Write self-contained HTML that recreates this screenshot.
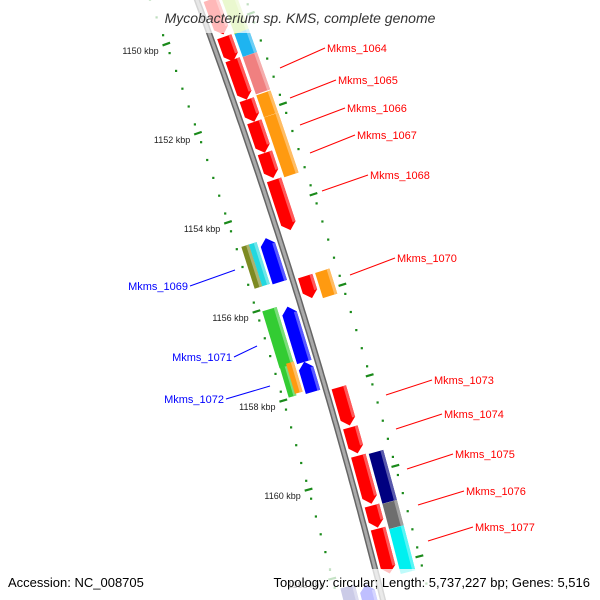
<!DOCTYPE html>
<html><head><meta charset="utf-8"><style>
body{margin:0;background:#fff;}
svg{display:block;font-family:"Liberation Sans",sans-serif;}
</style></head><body>
<svg id="map" width="600" height="600" viewBox="0 0 600 600" xmlns="http://www.w3.org/2000/svg">
<g id="ticks"></g>
<g id="backbone"></g>
<g id="genes"></g>
<g id="labels"></g>
<rect x="0" y="0" width="600" height="33" fill="#fff" opacity="0.72"/>
<text x="300" y="23" text-anchor="middle" font-size="14" font-style="italic" fill="#333">Mycobacterium sp. KMS, complete genome</text>
<rect x="0" y="569" width="600" height="31" fill="#fff" opacity="0.75"/>
<text x="8" y="587" font-size="13" fill="#000">Accession: NC_008705</text>
<text x="590" y="587" text-anchor="end" font-size="13" fill="#000">Topology: circular; Length: 5,737,227 bp; Genes: 5,516</text>
</svg>
<script>
// gene data (kbp)
const fwdStarts=[1149.44,1150.27,1150.78,1151.67,1152.16,1152.85,1153.45,1155.59,1158.06,1158.95,1159.58,1160.69,1161.20];
const fwdEnds  =[1150.22,1150.82,1151.67,1152.16,1152.85,1153.41,1154.57,1156.08,1158.91,1159.53,1160.65,1161.18,1162.20];
const fwd2Starts=[1149.30,1150.29,1150.80,1151.65,1152.14,1155.59,1159.60,1160.71,1161.27];
const fwd2Ends  =[1150.31,1150.80,1151.63,1152.14,1153.47,1156.15,1160.71,1161.27,1162.27];
const fwd2Colors=["#b5e655","#1eb4f0","#f08080","#ff9a10","#ff9a10","#ff9a10","#000080","#6e6e6e","#00f0f0"];
const revStarts=[1154.57,1156.10,1157.33,1162.30];
const revEnds  =[1155.55,1157.33,1158.00,1163.20];
const rev2Starts=[1154.59,1154.59,1156.04,1157.31,1157.26,1162.25];
const rev2Ends  =[1155.52,1155.52,1157.31,1157.97,1157.93,1163.20];
const rev2Colors=["#7d8a22","#22d8e0","#33cc33","#33cc33","#ff9a10","#3030a0"];
const rev2Offsets=[-35,-27,-31,-34,-27,-31];
const tickLabels=["1150 kbp","1152 kbp","1154 kbp","1156 kbp","1158 kbp","1160 kbp","1162 kbp"];
const tickValues=[1150,1152,1154,1156,1158,1160,1162];

const NS="http://www.w3.org/2000/svg";
const A=0.3697,B=-0.0000995;
function by(k){return 29+(k-1150)*44.9;}
function bx(y){return 197+A*y+B*y*y;}
function slope(y){return A+2*B*y;}
function frame(k,d){const y=by(k);const s=slope(y);const th=Math.atan(s);
  return {x:bx(y)+d*Math.cos(th),y:y-d*Math.sin(th),th:th};}
function mk(tag,attrs,parent){const e=document.createElementNS(NS,tag);for(const a in attrs)e.setAttribute(a,attrs[a]);parent.appendChild(e);return e;}

// backbone
const bb=document.getElementById('backbone');
let pts=[];for(let y=-10;y<=610;y+=5)pts.push(bx(y).toFixed(1)+","+y);
const bl1=mk('polyline',{points:pts.join(' '),fill:'none',stroke:'#666','stroke-width':6},bb);


const bl2=mk('polyline',{points:pts.join(' '),fill:'none',stroke:'#aaa','stroke-width':3},bb);



// ticks
const tg=document.getElementById('ticks');
for(let i=0;i<=40;i++){const k=1149+i*0.4;
  if(Math.abs(k-Math.round(k))<0.01&&Math.round(k)%2===0)continue;
  [-44,46].forEach(d=>{const f=frame(k,d);
    const r=mk('rect',{x:(f.x-1).toFixed(1),y:(f.y-1).toFixed(1),width:2.2,height:2.2,fill:'#1a8a1a'},tg);
    
    });
}
tickValues.forEach((k,i)=>{
  [-44,46].forEach(d=>{const a=frame(k,d-4),b=frame(k,d+4);
    const l=mk('line',{x1:a.x,y1:a.y,x2:b.x,y2:b.y,stroke:'#1a8a1a','stroke-width':2.2},tg);
    
    });
  const f=frame(k,-50);
  const t=mk('text',{x:(f.x-2).toFixed(1),y:(f.y+8).toFixed(1),'text-anchor':'end','font-size':9,fill:'#222'},tg);
  t.textContent=tickLabels[i];
  
  
});

// genes
const gg=document.getElementById('genes');
function lighten(c){const n=parseInt(c.slice(1),16);let r=n>>16,g=(n>>8)&255,b=n&255;
  r=Math.round(r+(255-r)*0.35);g=Math.round(g+(255-g)*0.35);b=Math.round(b+(255-b)*0.35);return `rgb(${r},${g},${b})`;}
function gene(k1,k2,d,w,color,arrow,name){
  const km=(k1+k2)/2,f=frame(km,d);
  const s=slope(by(km));const L=(by(k2)-by(k1))*Math.sqrt(1+s*s);
  const g=mk('g',{transform:`translate(${f.x.toFixed(1)},${f.y.toFixed(1)}) rotate(${(-f.th*180/Math.PI).toFixed(2)})`},gg);
  
  
  const h=L/2,x=w/2,t=Math.min(7,L*0.35);let p;
  if(arrow===1)p=`${-x},${-h} ${x},${-h} ${x},${h-t} 0,${h} ${-x},${h-t}`;
  else if(arrow===-1)p=`0,${-h} ${x},${-h+t} ${x},${h} ${-x},${h} ${-x},${-h+t}`;
  else p=`${-x},${-h} ${x},${-h} ${x},${h} ${-x},${h}`;
  mk('polygon',{points:p,fill:color},g);
  mk('rect',{x:x-3,y:arrow===-1?-h+t:-h,width:3,height:L-(arrow?t:0),fill:lighten(color)},g);
}
fwdStarts.forEach((s,i)=>gene(s,fwdEnds[i],13,15,'#ff0000',1,'forward-gene'));
fwd2Starts.forEach((s,i)=>gene(s,fwd2Ends[i],31,15,fwd2Colors[i],0,'forward-gene-outer'));
revStarts.forEach((s,i)=>gene(s,revEnds[i],-13,15,'#0000ff',-1,'reverse-gene'));
rev2Starts.forEach((s,i)=>gene(s,rev2Ends[i],rev2Offsets[i],rev2Offsets[i]===-31?15:8,rev2Colors[i],0,'reverse-gene-outer'));

// labels
const lg=document.getElementById('labels');
const lab=[["Mkms_1064",280,68,325,48,"r"],["Mkms_1065",290,98,336,80,"r"],["Mkms_1066",300,125,345,108,"r"],
["Mkms_1067",310,153,355,135,"r"],["Mkms_1068",322,191,368,175,"r"],["Mkms_1070",350,275,395,258,"r"],
["Mkms_1073",386,395,432,380,"r"],["Mkms_1074",396,429,442,414,"r"],["Mkms_1075",407,469,453,454,"r"],
["Mkms_1076",418,505,464,491,"r"],["Mkms_1077",428,541,473,527,"r"],
["Mkms_1069",235,270,190,286,"b"],["Mkms_1071",257,346,234,357,"b"],["Mkms_1072",270,386,226,399,"b"]];
lab.forEach(a=>{const c=a[5]==="r"?"#ff0000":"#0000ff";
  const l=mk('line',{x1:a[1],y1:a[2],x2:a[3],y2:a[4],stroke:c,'stroke-width':1},lg);
  
  
  const t=mk('text',{x:a[5]==="r"?a[3]+2:a[3]-2,y:a[4]+4,'text-anchor':a[5]==="r"?'start':'end','font-size':11,fill:c},lg);
  t.textContent=a[0];
  
  
});
</script>
</body></html>
